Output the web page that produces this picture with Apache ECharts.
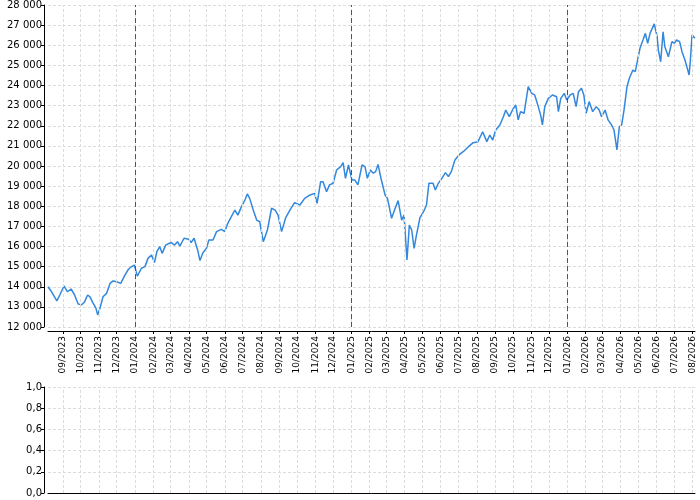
<!DOCTYPE html>
<html>
<head>
<meta charset="utf-8">
<script src="https://cdn.jsdelivr.net/npm/echarts@6/dist/echarts.min.js"></script>
<style>html,body{margin:0;padding:0;background:#fff}#c{width:700px;height:500px}</style>
</head>
<body>
<div id="c"></div>
<script>
const dates = [
'2023-08-07','2023-08-13','2023-08-22','2023-08-27','2023-09-03','2023-09-09','2023-09-15','2023-09-21','2023-09-27','2023-10-03',
'2023-10-08','2023-10-13','2023-10-17','2023-10-22','2023-10-27','2023-10-30','2023-11-03','2023-11-08','2023-11-14','2023-11-20',
'2023-11-25','2023-12-01','2023-12-08','2023-12-15','2023-12-21','2023-12-25','2023-12-31','2024-01-05','2024-01-12','2024-01-18',
'2024-01-23','2024-01-29','2024-02-03','2024-02-07','2024-02-12','2024-02-16','2024-02-22','2024-03-02','2024-03-08','2024-03-13',
'2024-03-17','2024-03-24','2024-04-01','2024-04-05','2024-04-10','2024-04-16','2024-04-20','2024-04-25','2024-05-01','2024-05-05',
'2024-05-12','2024-05-18','2024-05-26','2024-06-01','2024-06-06','2024-06-12','2024-06-18','2024-06-23','2024-06-29','2024-07-05',
'2024-07-09','2024-07-13','2024-07-19','2024-07-25','2024-07-30','2024-08-05','2024-08-12','2024-08-19','2024-08-25','2024-08-30',
'2024-09-05','2024-09-12','2024-09-19','2024-09-27','2024-10-06','2024-10-14','2024-10-23','2024-10-31','2024-11-04','2024-11-10',
'2024-11-14','2024-11-20','2024-11-25','2024-12-01','2024-12-07','2024-12-14','2024-12-18','2024-12-22','2024-12-27','2025-01-02',
'2025-01-07','2025-01-12','2025-01-19','2025-01-24','2025-01-28','2025-02-02','2025-02-07','2025-02-11','2025-02-15','2025-02-20',
'2025-02-27','2025-03-03','2025-03-10','2025-03-15','2025-03-21','2025-03-27','2025-03-31','2025-04-05','2025-04-09','2025-04-13',
'2025-04-17','2025-04-21','2025-04-27','2025-05-03','2025-05-08','2025-05-12','2025-05-19','2025-05-23','2025-05-28','2025-06-03',
'2025-06-09','2025-06-14','2025-06-19','2025-06-25','2025-07-02','2025-07-09','2025-07-18','2025-07-26','2025-07-29','2025-08-03',
'2025-08-11','2025-08-18','2025-08-23','2025-08-28','2025-09-02','2025-09-09','2025-09-15','2025-09-19','2025-09-25','2025-10-01',
'2025-10-06','2025-10-10','2025-10-14','2025-10-20','2025-10-27','2025-11-02','2025-11-07','2025-11-13','2025-11-17','2025-11-20',
'2025-11-24','2025-11-30','2025-12-07','2025-12-14','2025-12-17','2025-12-21','2025-12-27','2025-12-31','2026-01-06','2026-01-11',
'2026-01-16','2026-01-20','2026-01-25','2026-01-29','2026-02-02','2026-02-07','2026-02-13','2026-02-19','2026-02-24','2026-02-28',
'2026-03-06','2026-03-11','2026-03-17','2026-03-21','2026-03-26','2026-03-30','2026-04-03','2026-04-07','2026-04-12','2026-04-16',
'2026-04-22','2026-04-26','2026-04-30','2026-05-04','2026-05-09','2026-05-13','2026-05-17','2026-05-21','2026-05-28','2026-06-02',
'2026-06-04','2026-06-08','2026-06-12','2026-06-15','2026-06-21','2026-06-27','2026-07-01','2026-07-05','2026-07-10','2026-07-14',
'2026-07-19','2026-07-23','2026-07-26','2026-07-28','2026-07-31','2026-08-05'
];
const values = [
14000,13750,13300,13590,14040,13750,13890,13590,13140,13100,
13260,13590,13500,13200,12940,12600,12940,13500,13670,14170,
14290,14250,14170,14580,14870,14970,15080,14530,14920,15000,
15410,15580,15200,15740,15990,15660,16070,16200,16070,16240,
16020,16410,16360,16190,16410,15830,15300,15690,15910,16320,
16320,16740,16850,16740,17150,17480,17810,17560,17970,18310,
18610,18390,17810,17310,17230,16240,16820,17900,17810,17560,
16740,17440,17810,18180,18060,18390,18560,18640,18140,19220,
19220,18720,19060,19140,19800,19970,20170,19390,20050,19300,
19300,19060,20050,19970,19390,19800,19640,19720,20080,19390,
18560,18390,17400,17810,18280,17310,17560,15330,17060,16820,
15910,16570,17440,17730,18060,19140,19140,18810,19140,19390,
19670,19470,19720,20300,20550,20710,20960,21160,21130,21210,
21700,21210,21540,21290,21790,22040,22450,22780,22450,22820,
23030,22290,22700,22620,23940,23610,23530,22950,22530,22040,
22950,23360,23530,23440,22700,23360,23610,23280,23530,23610,
22950,23690,23860,23530,22620,23200,22700,22950,22780,22450,
22780,22290,22040,21790,20800,21950,22040,22780,23940,24360,
24770,24690,25270,25850,26260,26590,26100,26590,27060,26430,
25760,25180,26670,25930,25430,26180,26100,26260,26180,25680,
25270,24850,24520,25180,26510,26350
];
const monthTicks = [
'2023-09-01','2023-10-01','2023-11-01','2023-12-01',
'2024-01-01','2024-02-01','2024-03-01','2024-04-01','2024-05-01','2024-06-01',
'2024-07-01','2024-08-01','2024-09-01','2024-10-01','2024-11-01','2024-12-01',
'2025-01-01','2025-02-01','2025-03-01','2025-04-01','2025-05-01','2025-06-01',
'2025-07-01','2025-08-01','2025-09-01','2025-10-01','2025-11-01','2025-12-01',
'2026-01-01','2026-02-01','2026-03-01','2026-04-01','2026-05-01','2026-06-01',
'2026-07-01','2026-08-01'
];
const yearMarks = ['2024-01-01','2025-01-01','2026-01-01'];
const yTop = {min: 12000, max: 28000, step: 1000};
const yBottom = {min: 0, max: 1, step: 0.2};

const seriesData = dates.map((d, i) => [d, values[i]]);
const tMin = +new Date(dates[0] + 'T00:00:00Z');
const tMax = +new Date(dates[dates.length - 1] + 'T00:00:00Z');

const font = 'DejaVu Sans';
const gridStyle = {color: '#dcdcdc', type: [3, 2], width: 1};
const gridLine = {show: true, lineStyle: gridStyle};
function monthFmt(v) {
  const d = new Date(v);
  const m = d.getMonth() + 1;
  return (m < 10 ? '0' + m : '' + m) + '/' + d.getFullYear();
}
function thousands(v) { return String(v).replace(/\B(?=(\d{3})+(?!\d))/g, ' '); }

const baseX = {
  type: 'time', min: tMin, max: tMax, splitNumber: 34,
  axisLine: {show: true, lineStyle: {color: '#000', width: 1}},
  splitLine: {show: false}
};
const monthGridMarks = {
  silent: true, symbol: 'none', label: {show: false}, animation: false,
  lineStyle: gridStyle,
  data: monthTicks.map(d => ({xAxis: d}))
};

const chart = echarts.init(document.getElementById('c'), null, {renderer: 'canvas'});
chart.setOption({
  animation: false,
  grid: [
    {left: 48, right: 5, top: 5, height: 322},
    {left: 48, right: 5, top: 387, height: 106}
  ],
  xAxis: [
    Object.assign({}, baseX, {
      gridIndex: 0, offset: 4,
      axisTick: {show: true, length: 3, lineStyle: {color: '#000'}},
      axisLabel: {rotate: 90, fontSize: 9, fontFamily: font, color: '#000', margin: 5,
        formatter: monthFmt, showMinLabel: false, showMaxLabel: false, hideOverlap: false}
    }),
    Object.assign({}, baseX, {
      gridIndex: 1, offset: 0,
      axisTick: {show: false}, axisLabel: {show: false}
    })
  ],
  yAxis: [
    {type: 'value', gridIndex: 0, min: yTop.min, max: yTop.max, interval: yTop.step, offset: 4,
      axisLine: {show: true, lineStyle: {color: '#000'}},
      axisTick: {show: true, length: 3, lineStyle: {color: '#000'}},
      axisLabel: {fontSize: 10, fontFamily: font, color: '#000', margin: 2, formatter: thousands},
      splitLine: gridLine},
    {type: 'value', gridIndex: 1, min: yBottom.min, max: yBottom.max, interval: yBottom.step, offset: 4,
      axisLine: {show: true, lineStyle: {color: '#000'}},
      axisTick: {show: true, length: 3, lineStyle: {color: '#000'}},
      axisLabel: {fontSize: 10, fontFamily: font, color: '#000', margin: 2,
        formatter: v => v.toFixed(1).replace('.', ',')},
      splitLine: gridLine}
  ],
  series: [
    {type: 'line', xAxisIndex: 0, yAxisIndex: 0, data: [], z: 1, markLine: monthGridMarks},
    {type: 'line', xAxisIndex: 1, yAxisIndex: 1, data: [], z: 1, markLine: monthGridMarks},
    {
      type: 'line', xAxisIndex: 0, yAxisIndex: 0, data: seriesData, z: 3,
      showSymbol: false, symbol: 'none',
      lineStyle: {color: '#3388dd', width: 1.5},
      markLine: {
        silent: true, symbol: 'none', label: {show: false},
        lineStyle: {color: '#555', type: [5, 3], width: 1},
        data: yearMarks.map(d => ({xAxis: d}))
      }
    }
  ]
});
</script>
</body>
</html>
